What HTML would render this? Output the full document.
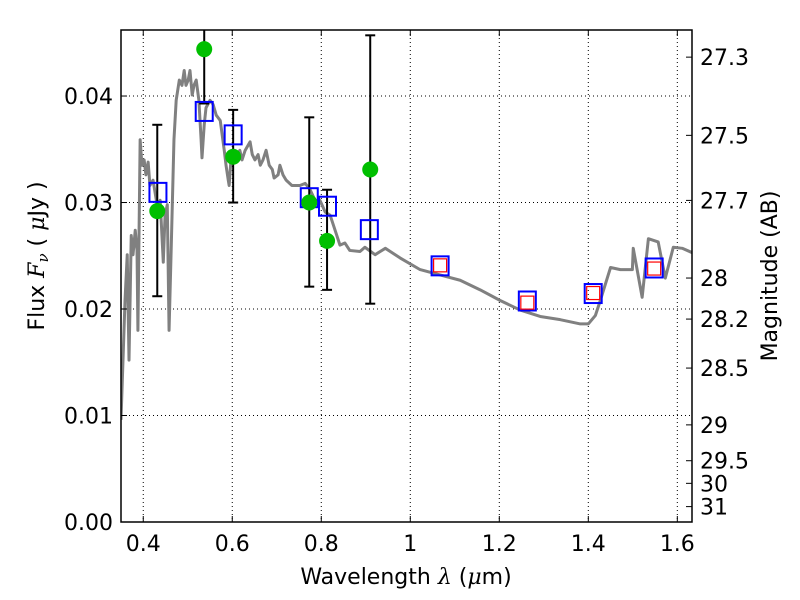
<!DOCTYPE html>
<html><head><meta charset="utf-8"><style>
body{margin:0;background:#fff}
svg{display:block;font-family:"DejaVu Sans","Liberation Sans",sans-serif}
</style></head><body>
<svg id="chart" width="800" height="600"></svg>
<script>
const specWave=[0.350,0.359,0.364,0.368,0.373,0.377,0.382,0.386,0.388,0.393,0.397,0.402,0.406,0.411,0.415,0.422,0.431,0.438,0.445,0.449,0.454,0.458,0.463,0.469,0.474,0.481,0.487,0.492,0.496,0.501,0.505,0.510,0.514,0.519,0.525,0.530,0.532,0.537,0.541,0.550,0.557,0.564,0.573,0.582,0.586,0.591,0.593,0.597,0.604,0.611,0.617,0.622,0.629,0.640,0.645,0.651,0.658,0.663,0.669,0.676,0.683,0.690,0.694,0.703,0.707,0.714,0.721,0.734,0.752,0.764,0.775,0.786,0.797,0.809,0.820,0.831,0.842,0.853,0.864,0.887,0.898,0.921,0.944,0.955,0.977,1.022,1.067,1.112,1.157,1.202,1.247,1.292,1.337,1.382,1.400,1.416,1.427,1.450,1.472,1.499,1.501,1.521,1.535,1.557,1.573,1.591,1.611,1.633];
const specFlux=[0.0096,0.0208,0.0251,0.0152,0.0269,0.0251,0.0274,0.0255,0.0180,0.0359,0.0335,0.0340,0.0326,0.0338,0.0316,0.0321,0.0298,0.0302,0.0244,0.0288,0.0298,0.0180,0.0260,0.0359,0.0396,0.0415,0.0410,0.0424,0.0410,0.0415,0.0424,0.0401,0.0410,0.0415,0.0396,0.0359,0.0342,0.0373,0.0389,0.0396,0.0392,0.0382,0.0377,0.0349,0.0335,0.0321,0.0316,0.0340,0.0345,0.0345,0.0349,0.0340,0.0349,0.0357,0.0345,0.0340,0.0345,0.0335,0.0340,0.0349,0.0335,0.0331,0.0323,0.0326,0.0335,0.0326,0.0321,0.0316,0.0316,0.0318,0.0312,0.0302,0.0302,0.0291,0.0288,0.0274,0.0260,0.0262,0.0255,0.0254,0.0258,0.0251,0.0257,0.0254,0.0248,0.0237,0.0232,0.0227,0.0218,0.0208,0.0199,0.0193,0.0190,0.0186,0.0186,0.0194,0.0208,0.0239,0.0237,0.0237,0.0257,0.0211,0.0266,0.0263,0.0229,0.0258,0.0257,0.0253];
const obsWave=[0.4315,0.537,0.602,0.773,0.813,0.910];
const obsFlux=[0.0292,0.0444,0.0343,0.0300,0.0264,0.0331];
const obsHi=[0.0373,0.0492,0.0387,0.0380,0.0312,0.0457];
const obsLo=[0.0212,0.0393,0.0300,0.0221,0.0218,0.0205];
const modelWave=[0.433,0.537,0.602,0.773,0.814,0.908,1.067,1.263,1.411,1.548];
const modelFlux=[0.0310,0.0386,0.0364,0.0305,0.0297,0.0275,0.0241,0.0208,0.0215,0.0239];
const redWave=[1.067,1.263,1.411,1.548];
const redFlux=[0.0241,0.0206,0.0215,0.0238];
const xTicks=[0.4,0.6,0.8,1.0,1.2,1.4,1.6];
const xTickLabels=["0.4","0.6","0.8","1","1.2","1.4","1.6"];
const yTicks=[0,0.01,0.02,0.03,0.04];
const yTickLabels=["0.00","0.01","0.02","0.03","0.04"];
const magTicks=[27.3,27.5,27.7,28,28.2,28.5,29,29.5,30,31];

const L=121,R=692,T=30,B=522,X0=0.35,X1=1.633,Y0=0,Y1=0.0462;
const sx=v=>L+(v-X0)/(X1-X0)*(R-L);
const sy=v=>B-(v-Y0)/(Y1-Y0)*(B-T);
const magToFlux=m=>Math.pow(10,(23.9-m)/2.5);
const svg=document.getElementById('chart');
const NS='http://www.w3.org/2000/svg';
function mk(tag,attrs,parent){const e=document.createElementNS(NS,tag);for(const k in attrs)e.setAttribute(k,attrs[k]);(parent||svg).appendChild(e);return e;}

const clip=mk('clipPath',{id:'pc'});mk('rect',{x:L,y:T,width:R-L,height:B-T},clip);
const grid=mk('g',{});


xTicks.forEach(v=>mk('line',{x1:sx(v),x2:sx(v),y1:T,y2:B,stroke:'#000','stroke-width':1,'stroke-dasharray':'1,3'},grid));
yTicks.forEach(v=>mk('line',{x1:L,x2:R,y1:sy(v),y2:sy(v),stroke:'#000','stroke-width':1,'stroke-dasharray':'1,3'},grid));
const plot=mk('g',{'clip-path':'url(#pc)'});
const sp=mk('polyline',{points:specWave.map((w,i)=>sx(w)+','+sy(specFlux[i])).join(' '),fill:'none',stroke:'#808080','stroke-width':3,'stroke-linejoin':'round'},plot);


obsWave.forEach((w,i)=>{
 const g=mk('g',{},plot);
 
 
 mk('line',{x1:sx(w),x2:sx(w),y1:sy(obsHi[i]),y2:sy(obsLo[i]),stroke:'#000','stroke-width':2},g);
 mk('line',{x1:sx(w)-5,x2:sx(w)+5,y1:sy(obsHi[i]),y2:sy(obsHi[i]),stroke:'#000','stroke-width':2},g);
 mk('line',{x1:sx(w)-5,x2:sx(w)+5,y1:sy(obsLo[i]),y2:sy(obsLo[i]),stroke:'#000','stroke-width':2},g);
});
modelWave.forEach((w,i)=>{
 const r=mk('rect',{x:sx(w)-8.5,y:sy(modelFlux[i])-9,width:17,height:19,fill:'none',stroke:'#0000ff','stroke-width':2},plot);
 
 
});
redWave.forEach((w,i)=>{
 const r=mk('rect',{x:sx(w)-6.5,y:sy(redFlux[i])-6.5,width:13,height:13,fill:'none',stroke:'#ff0000','stroke-width':1.2},plot);
 
 
});
obsWave.forEach((w,i)=>{
 const c=mk('circle',{cx:sx(w),cy:sy(obsFlux[i]),r:8,fill:'#00bf00'},plot);
 
 
});
const fr=mk('rect',{x:L,y:T,width:R-L,height:B-T,fill:'none',stroke:'#000','stroke-width':1.5});


xTicks.forEach((v,i)=>{
 mk('line',{x1:sx(v),x2:sx(v),y1:B,y2:B-6,stroke:'#000'});
 mk('line',{x1:sx(v),x2:sx(v),y1:T,y2:T+6,stroke:'#000'});
 const t=mk('text',{x:sx(v),y:B+29,'text-anchor':'middle','font-size':22});t.textContent=xTickLabels[i];
 
 
});
yTicks.forEach((v,i)=>{
 mk('line',{x1:L,x2:L+6,y1:sy(v),y2:sy(v),stroke:'#000'});
 const t=mk('text',{x:L-8,y:sy(v)+8,'text-anchor':'end','font-size':22});t.textContent=yTickLabels[i];
 
 
});
magTicks.forEach(m=>{
 const y=sy(magToFlux(m));
 mk('line',{x1:R,x2:R-6,y1:y,y2:y,stroke:'#000'});
 const t=mk('text',{x:R+8,y:y+8,'font-size':22});t.textContent=String(m);
 
 
});
const xt=mk('text',{x:406,y:584,'text-anchor':'middle','font-size':22,'xml:space':'preserve'});
xt.innerHTML='Wavelength  <tspan font-style="italic" font-family="DejaVu Serif,serif">λ</tspan> (<tspan font-style="italic" font-family="DejaVu Serif,serif">μ</tspan>m)';


const yt=mk('text',{x:0,y:0,'text-anchor':'middle','font-size':22,transform:'translate(44,256) rotate(-90)','xml:space':'preserve'});
yt.innerHTML='Flux  <tspan font-style="italic" font-family="DejaVu Serif,serif">F<tspan font-size="15" dy="4">ν</tspan></tspan><tspan dy="-4">  (  </tspan><tspan font-style="italic" font-family="DejaVu Serif,serif">μ</tspan>Jy )';


const rt=mk('text',{x:0,y:0,'text-anchor':'middle','font-size':22,transform:'translate(777,276) rotate(-90)'});
rt.textContent='Magnitude (AB)';


</script>
</body></html>
